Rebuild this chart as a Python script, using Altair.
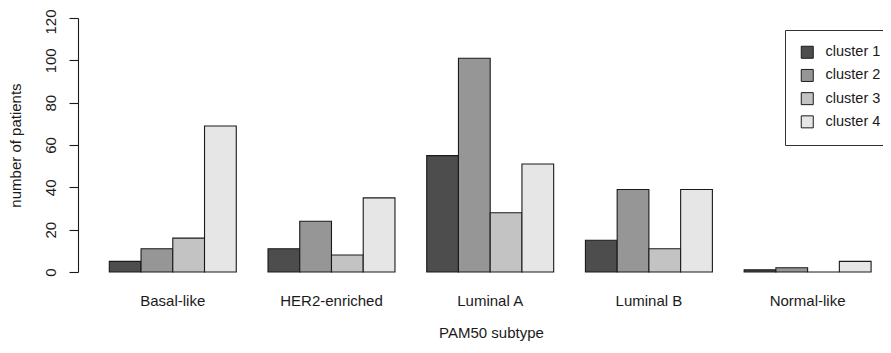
import altair as alt
import pandas as pd

subtypes = ["Basal-like", "HER2-enriched", "Luminal A", "Luminal B", "Normal-like"]
clusters = ["cluster 1", "cluster 2", "cluster 3", "cluster 4"]
cluster1 = [5, 11, 55, 15, 1]
cluster2 = [11, 24, 101, 39, 2]
cluster3 = [16, 8, 28, 11, 0]
cluster4 = [69, 35, 51, 39, 5]
grays = ["#4D4D4D", "#969696", "#C3C3C3", "#E6E6E6"]
y_ticks = [0, 20, 40, 60, 80, 100, 120]

rows = []
for cname, vals in zip(clusters, [cluster1, cluster2, cluster3, cluster4]):
    for s, v in zip(subtypes, vals):
        rows.append({"subtype": s, "cluster": cname, "n": v})
df = pd.DataFrame(rows)

FONT = "Liberation Sans"
FS = 15
TXT = "#1a1a1a"

chart = alt.Chart(df).mark_bar(stroke="#1a1a1a", strokeWidth=1.1).encode(
    x=alt.X("subtype:N", sort=subtypes,
            scale=alt.Scale(paddingInner=0.2, paddingOuter=0.1361, align=0.7245, round=False),
            axis=alt.Axis(title="PAM50 subtype", domain=False, ticks=False, tickSize=0,
                          labelAngle=0, labelPadding=33, labelBaseline="alphabetic",
                          labelFontSize=FS, labelColor=TXT, labelFont=FONT,
                          titleFontSize=FS, titleColor=TXT, titleFont=FONT,
                          titleFontWeight="normal", titleX=413, titleY=65,
                          titleBaseline="alphabetic", titleAlign="center")),
    xOffset=alt.XOffset("cluster:N", sort=clusters,
                        scale=alt.Scale(paddingInner=0, paddingOuter=0, round=False)),
    y=alt.Y("n:Q",
            scale=alt.Scale(domain=[0, 120], nice=False, zero=True),
            axis=alt.Axis(title="number of patients", values=y_ticks, grid=False,
                          domainColor="#1a1a1a", domainWidth=1.1,
                          tickColor="#1a1a1a", tickSize=9, tickWidth=1.1,
                          labelAngle=270, labelAlign="center", labelBaseline="alphabetic",
                          labelOffset={"condition": {"test": "datum.value == 120", "value": 3.5},
                                       "value": 0},
                          labelPadding=14, labelFontSize=FS, labelColor=TXT, labelFont=FONT,
                          titleAngle=270, titleFontSize=FS, titleColor=TXT, titleFont=FONT,
                          titleFontWeight="normal", titleX=-58, titleY=127,
                          titleBaseline="alphabetic", titleAlign="center")),
    color=alt.Color("cluster:N", sort=clusters,
                    scale=alt.Scale(domain=clusters, range=grays),
                    legend=alt.Legend(title=None, orient="none", legendX=707, legendY=12,
                                      symbolType="square", symbolSize=144,
                                      symbolStrokeColor="#1a1a1a", symbolStrokeWidth=1,
                                      symbolOpacity=1,
                                      labelFontSize=14.5, labelColor=TXT, labelFont=FONT,
                                      labelOffset=11, rowPadding=6.2, padding=15,
                                      strokeColor="#333333", fillColor="white")),
).properties(
    width=805,
    height=254,
    autosize=alt.AutoSizeParams(type="none"),
    padding={"left": 70, "top": 10, "right": 0, "bottom": 69},
    background="white",
).configure_view(stroke=None, strokeWidth=0)

chart.save("out.html", embed_options={"renderer": "svg", "actions": False})
